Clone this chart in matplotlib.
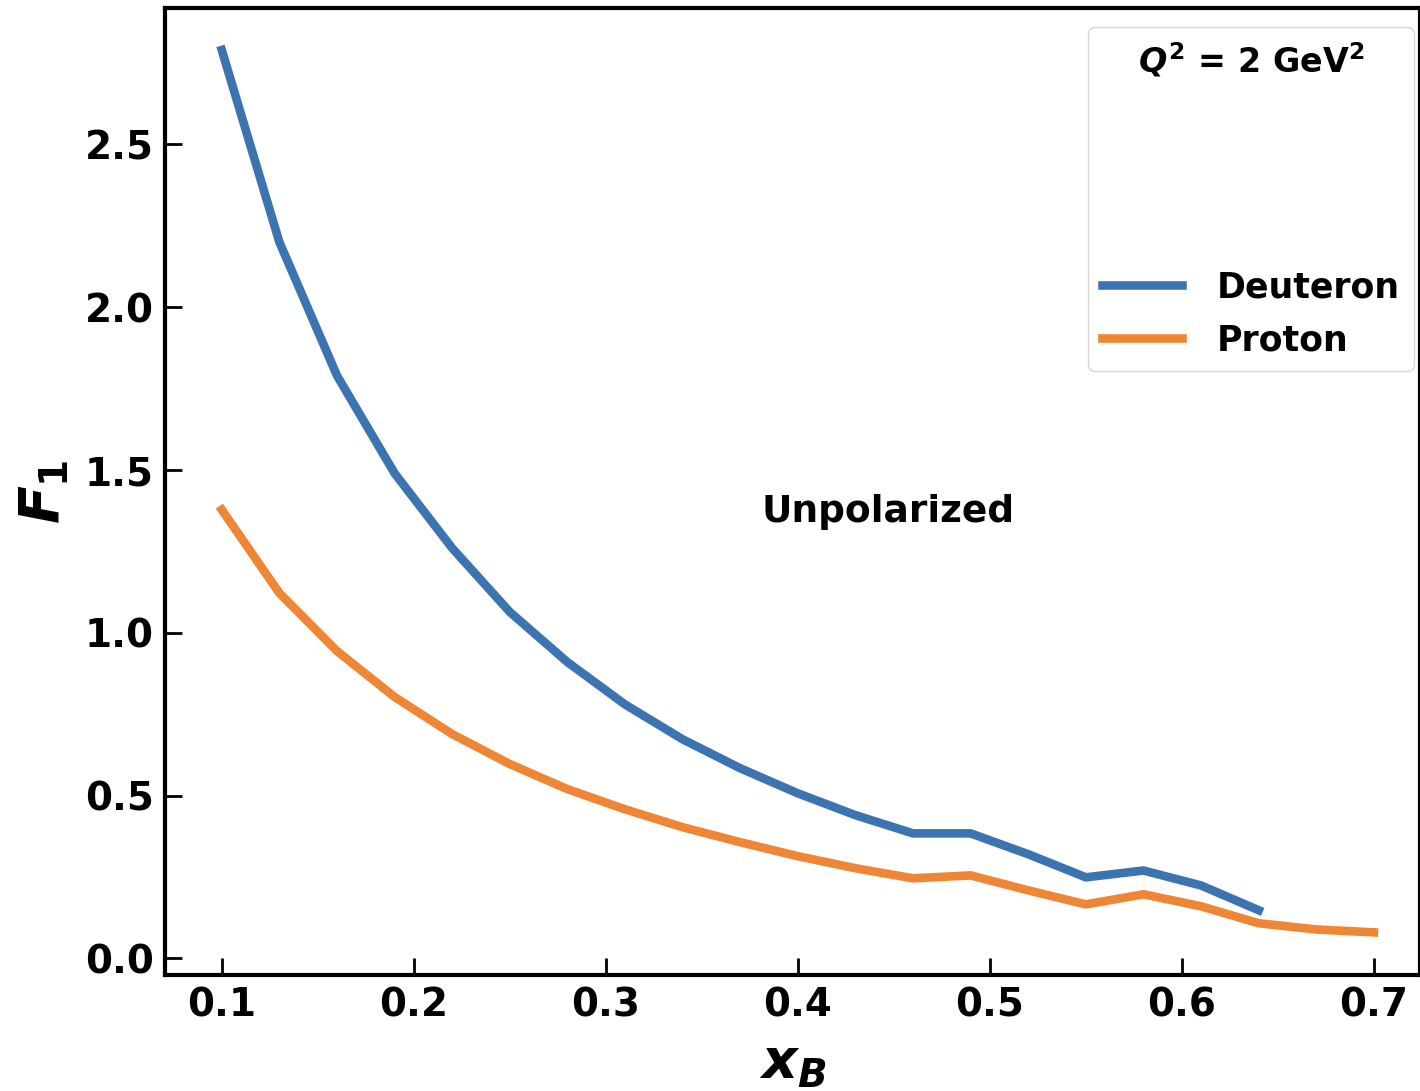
import matplotlib.pyplot as plt
from matplotlib.lines import Line2D

# Data
x_deut = [0.10, 0.13, 0.16, 0.19, 0.22, 0.25, 0.28, 0.31, 0.34, 0.37,
          0.40, 0.43, 0.46, 0.49, 0.52, 0.55, 0.58, 0.61, 0.64]
f1_deut = [2.79, 2.20, 1.79, 1.49, 1.26, 1.064, 0.91, 0.78, 0.673, 0.584,
           0.507, 0.44, 0.384, 0.384, 0.32, 0.249, 0.27, 0.224, 0.148]

x_prot = [0.10, 0.13, 0.16, 0.19, 0.22, 0.25, 0.28, 0.31, 0.34, 0.37,
          0.40, 0.43, 0.46, 0.49, 0.52, 0.55, 0.58, 0.61, 0.64, 0.67, 0.70]
f1_prot = [1.378, 1.122, 0.944, 0.803, 0.689, 0.597, 0.52, 0.458, 0.403, 0.357,
           0.314, 0.277, 0.246, 0.255, 0.209, 0.166, 0.197, 0.16, 0.108, 0.089, 0.08]

x_ticks = [0.1, 0.2, 0.3, 0.4, 0.5, 0.6, 0.7]
y_ticks = [0.0, 0.5, 1.0, 1.5, 2.0, 2.5]

plt.rcParams['mathtext.fontset'] = 'custom'
plt.rcParams['mathtext.it'] = 'DejaVu Sans:italic:bold'
plt.rcParams['mathtext.rm'] = 'DejaVu Sans:bold'
plt.rcParams['mathtext.bf'] = 'DejaVu Sans:bold'

fig = plt.figure(figsize=(14.2, 10.91), dpi=100)
ax = fig.add_axes([0.116, 0.106, 0.884, 0.887])

ax.plot(x_deut, f1_deut, color='#3b74b0', lw=6.2, label='Deuteron')
ax.plot(x_prot, f1_prot, color='#ef8636', lw=6.2, label='Proton')

ax.set_xlim(0.0703, 0.724)
ax.set_ylim(-0.052, 2.92)
ax.set_xticks(x_ticks)
ax.set_yticks(y_ticks)
ax.set_xticklabels([f'{v:.1f}' for v in x_ticks], fontsize=28, fontweight='bold')
ax.set_yticklabels([f'{v:.1f}' for v in y_ticks], fontsize=28, fontweight='bold')
ax.tick_params(direction='in', length=12, width=2, pad=8)

for s in ax.spines.values():
    s.set_linewidth(3)

ax.set_xlabel(r'$x_B$', fontsize=40, labelpad=8)
ax.set_ylabel(r'$F_1$', fontsize=40, labelpad=10)

ax.text(0.381, 1.37, 'Unpolarized', fontsize=27, fontweight='bold',
        ha='left', va='center')

# legend with title and an empty spacer entry
spacer = Line2D([], [], color='none')
handles = [spacer, ax.lines[0], ax.lines[1]]
labels = ['\n\n\n', 'Deuteron', 'Proton']
leg = ax.legend(handles, labels, loc='upper right', bbox_to_anchor=(0.995, 0.98),
                title=r'$Q^2$ = 2 GeV$^2$', fontsize=25, handlelength=2.3,
                handletextpad=1.0, borderaxespad=0, frameon=True, labelspacing=0.55)
for t in leg.get_texts():
    t.set_fontweight('bold')
leg.get_title().set_fontsize(24)
leg.get_title().set_fontweight('bold')

fig.savefig('out.png', dpi=100)
